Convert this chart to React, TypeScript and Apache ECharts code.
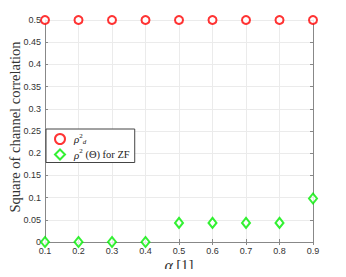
import React, { useEffect, useRef } from "react";
import * as echarts from "echarts";

const alphas = [0.1, 0.2, 0.3, 0.4, 0.5, 0.6, 0.7, 0.8, 0.9];
const rhoD2 = [0.5, 0.5, 0.5, 0.5, 0.5, 0.5, 0.5, 0.5, 0.5];
const rhoZF = [0, 0, 0, 0, 0.043, 0.043, 0.043, 0.043, 0.098];
const seriesNames = ["rhod", "rhozf"];
const xTitle = "[1]";
const xSymbol = "α";
const yTitle = "Square of channel correlation";

const axisColor = "#888888";
const labelColor = "#333333";
const serif = "'Liberation Serif', 'DejaVu Serif', serif";
const sans = "'Liberation Sans', Arial, sans-serif";

export default function App() {
  const ref = useRef<HTMLDivElement>(null);
  useEffect(() => {
    if (!ref.current) return;
    const chart = echarts.init(ref.current, undefined, { renderer: "svg" });
    const fmt2 = (v: number) => String(Math.round(v * 100) / 100);
    const baseAxis = {
      axisLine: { show: true, lineStyle: { color: axisColor, width: 1 } },
      axisTick: { show: true, inside: true, length: 3, lineStyle: { color: axisColor } },
    };
    const txt = "#222222";
    chart.setOption({
      animation: false,
      backgroundColor: "#ffffff",
      grid: { left: 45, right: 33, top: 20, bottom: 35, outerBoundsMode: "none", containLabel: false },
      graphic: [
        {
          type: "text",
          x: 179,
          y: 265,
          style: {
            text: `{i|${xSymbol}} {t|${xTitle}}`,
            align: "center",
            verticalAlign: "middle",
            rich: {
              i: { fontFamily: serif, fontStyle: "italic", fontSize: 16, fill: labelColor },
              t: { fontFamily: serif, fontSize: 15, fill: labelColor },
            },
          },
        },
        {
          type: "text",
          x: 15,
          y: 127,
          rotation: Math.PI / 2,
          style: {
            text: yTitle,
            fontFamily: serif,
            fontSize: 14.5,
            fill: labelColor,
            align: "center",
            verticalAlign: "middle",
          },
        },
      ],
      xAxis: [
        {
          ...baseAxis,
          type: "value",
          min: 0.1,
          max: 0.9,
          interval: 0.1,
          position: "bottom",
          splitLine: { show: true, lineStyle: { color: "#ebebeb" } },
          axisLabel: { color: labelColor, fontSize: 9, fontFamily: sans, margin: 4, formatter: fmt2 },
        },
        {
          ...baseAxis,
          type: "value",
          min: 0.1,
          max: 0.9,
          interval: 0.1,
          position: "top",
          splitLine: { show: false },
          axisLabel: { show: false },
        },
      ],
      yAxis: [
        {
          ...baseAxis,
          type: "value",
          min: 0,
          max: 0.5,
          interval: 0.05,
          position: "left",
          splitLine: { show: true, lineStyle: { color: "#ebebeb" } },
          axisLabel: { color: labelColor, fontSize: 9, fontFamily: sans, margin: 4, formatter: fmt2 },
        },
        {
          ...baseAxis,
          type: "value",
          min: 0,
          max: 0.5,
          interval: 0.05,
          position: "right",
          splitLine: { show: false },
          axisLabel: { show: false },
        },
      ],
      legend: {
        left: 46,
        top: 129,
        orient: "vertical",
        backgroundColor: "#ffffff",
        borderColor: "#444444",
        borderWidth: 1,
        borderRadius: 0,
        padding: [3, 5, 2, 8],
        itemGap: 2,
        itemWidth: 10,
        itemHeight: 10,
        data: seriesNames,
        formatter: (name: string) =>
          name === "rhod" ? "{g|ρ}{sup|2}{sub|d}" : "{g|ρ}{sup|2}{t| (Θ) for ZF}",
        textStyle: {
          fontFamily: serif,
          fontSize: 10,
          color: txt,
          padding: [0, 0, 0, 4],
          rich: {
            g: { fontFamily: serif, fontStyle: "italic", fontSize: 11, color: txt },
            t: { fontFamily: serif, fontSize: 10.5, color: txt },
            sup: { fontFamily: serif, fontSize: 7, color: txt, padding: [0, 0, 7, 0] },
            sub: { fontFamily: serif, fontStyle: "italic", fontSize: 7, color: txt, padding: [6, 0, 0, 0] },
          },
        },
      },
      series: [
        {
          name: seriesNames[0],
          type: "scatter",
          data: alphas.map((a, i) => [a, rhoD2[i]]),
          symbol: "emptyCircle",
          symbolSize: 8,
          clip: false,
          itemStyle: { color: "#ff0000", borderColor: "#ff0000", borderWidth: 1 },
        },
        {
          name: seriesNames[1],
          type: "scatter",
          data: alphas.map((a, i) => [a, rhoZF[i]]),
          symbol: "emptyDiamond",
          symbolSize: [8, 10],
          clip: false,
          itemStyle: { color: "#00ee00", borderColor: "#00ee00", borderWidth: 1 },
        },
      ],
    });
    return () => chart.dispose();
  }, []);
  return <div ref={ref} style={{ width: 346, height: 277, margin: -8 }} />;
}
